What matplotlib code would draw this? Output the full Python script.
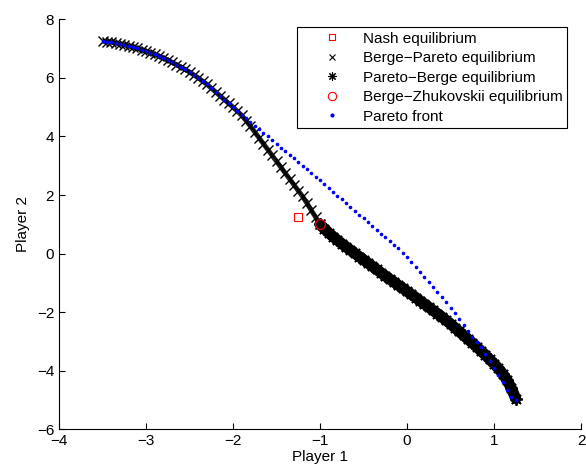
import matplotlib
matplotlib.use("Agg")
import matplotlib.pyplot as plt
from matplotlib.lines import Line2D

plt.rcParams['font.family'] = ['Liberation Sans', 'DejaVu Sans']

# Nash and Berge-Zhukovskii equilibria
nash_x = [-1.25]
nash_y = [1.25]
bz_x = [-1.0]
bz_y = [1.0]

# Shared upper part (Berge-Pareto and Pareto front overlap)
upper_x = [-3.50, -3.45, -3.40, -3.35, -3.30, -3.25, -3.20, -3.15, -3.10, -3.05,
           -3.00, -2.95, -2.90, -2.85, -2.80, -2.75, -2.70, -2.65, -2.60, -2.55,
           -2.50, -2.45, -2.40, -2.35, -2.30, -2.25, -2.20, -2.15, -2.10, -2.05,
           -2.00, -1.95, -1.90]
upper_y = [7.25, 7.24, 7.22, 7.19, 7.16, 7.13, 7.09, 7.05, 7.01, 6.96,
           6.91, 6.86, 6.80, 6.74, 6.68, 6.61, 6.53, 6.45, 6.37, 6.29,
           6.20, 6.10, 6.00, 5.89, 5.78, 5.65, 5.52, 5.39, 5.26, 5.13,
           5.00, 4.86, 4.72]

# Berge-Pareto equilibrium: continuation down to the kink
bp_tail_x = [-1.85, -1.80, -1.75, -1.70, -1.65, -1.60, -1.55, -1.50, -1.45, -1.40,
             -1.35, -1.30, -1.25, -1.20, -1.15, -1.10, -1.05, -1.00]
bp_tail_y = [4.54, 4.35, 4.15, 3.95, 3.75, 3.55, 3.35, 3.15, 2.95, 2.75,
             2.55, 2.35, 2.15, 1.95, 1.72, 1.48, 1.24, 1.00]

# Pareto-Berge equilibrium (lower branch)
pb_x = [-1.00, -0.95, -0.90, -0.85, -0.80, -0.75, -0.70, -0.65, -0.60, -0.55,
        -0.50, -0.45, -0.40, -0.35, -0.30, -0.25, -0.20, -0.15, -0.10, -0.05,
        0.00, 0.05, 0.10, 0.15, 0.20, 0.25, 0.30, 0.35, 0.40, 0.45,
        0.50, 0.55, 0.60, 0.65, 0.70, 0.75, 0.80, 0.85, 0.90, 0.95,
        1.00, 1.05, 1.10, 1.15, 1.20, 1.25]
pb_y = [1.00, 0.85, 0.71, 0.58, 0.46, 0.34, 0.23, 0.12, 0.01, -0.10,
        -0.21, -0.32, -0.43, -0.54, -0.65, -0.76, -0.87, -0.97, -1.08, -1.18,
        -1.29, -1.39, -1.50, -1.61, -1.72, -1.83, -1.94, -2.05, -2.16, -2.28,
        -2.40, -2.53, -2.66, -2.79, -2.92, -3.05, -3.18, -3.32, -3.46, -3.61,
        -3.76, -3.92, -4.10, -4.32, -4.60, -4.95]

# Pareto front: branch that leaves the black curve
pf_tail_x = [-1.85, -1.80, -1.75, -1.70, -1.65, -1.60, -1.55, -1.50, -1.45, -1.40,
             -1.35, -1.30, -1.25, -1.20, -1.15, -1.10, -1.05, -1.00, -0.95, -0.90,
             -0.85, -0.80, -0.75, -0.70, -0.65, -0.60, -0.55, -0.50, -0.45, -0.40,
             -0.35, -0.30, -0.25, -0.20, -0.15, -0.10, -0.05, 0.00, 0.05, 0.10,
             0.15, 0.20, 0.25, 0.30, 0.35, 0.40, 0.45, 0.50, 0.55, 0.60,
             0.65, 0.70, 0.75, 0.80, 0.85, 0.90, 0.95, 1.00, 1.05, 1.10,
             1.15, 1.20, 1.25]
pf_tail_y = [4.62, 4.50, 4.37, 4.25, 4.12, 4.00, 3.87, 3.75, 3.62, 3.50,
             3.38, 3.25, 3.13, 3.00, 2.88, 2.75, 2.63, 2.50, 2.37, 2.24,
             2.11, 1.98, 1.85, 1.72, 1.59, 1.46, 1.33, 1.20, 1.07, 0.93,
             0.80, 0.67, 0.55, 0.43, 0.31, 0.18, 0.03, -0.12, -0.29, -0.46,
             -0.63, -0.79, -0.96, -1.13, -1.30, -1.48, -1.66, -1.85, -2.04, -2.24,
             -2.45, -2.66, -2.84, -3.02, -3.20, -3.42, -3.66, -3.90, -4.14, -4.40,
             -4.65, -4.88, -5.00]

labels = ["Nash equilibrium", "Berge\u2212Pareto equilibrium", "Pareto\u2212Berge equilibrium",
          "Berge\u2212Zhukovskii equilibrium", "Pareto front"]
xticks = [-4, -3, -2, -1, 0, 1, 2]
yticks = [-6, -4, -2, 0, 2, 4, 6, 8]

asterisk = (8, 2, 0)

fig = plt.figure(figsize=(5.86, 4.73), dpi=100)
ax = fig.add_axes([59/586, 1 - 429.3/473, 522/586, 410/473])

bp_x = upper_x + bp_tail_x
bp_y = upper_y + bp_tail_y
ax.plot(nash_x, nash_y, 's', ls='none', mfc='none', mec='red', ms=6, mew=0.8)
ax.plot(bp_x, bp_y, color='#202020', lw=3.5, solid_capstyle='butt')
ax.plot(bp_x, bp_y, 'x', ls='none', color='black', ms=7.5, mew=1.0)
ax.plot(pb_x, pb_y, color='black', lw=8, solid_capstyle='round')
ax.plot(pb_x, pb_y, marker=asterisk, ls='none', color='black', ms=9, mew=1.3)
ax.plot(bz_x, bz_y, 'o', ls='none', mfc='none', mec='red', ms=7, mew=0.8)
ax.plot(upper_x + pf_tail_x, upper_y + pf_tail_y, '.', ls='none', color='blue', ms=3.2)

handles = [
    Line2D([], [], marker='s', ls='none', mfc='none', mec='red', ms=5, mew=0.8),
    Line2D([], [], marker='x', ls='none', color='black', ms=5, mew=0.8),
    Line2D([], [], marker=asterisk, ls='none', color='black', ms=6, mew=0.8),
    Line2D([], [], marker='o', ls='none', mfc='none', mec='red', ms=6, mew=0.8),
    Line2D([], [], marker='.', ls='none', color='blue', ms=4),
]
leg = ax.legend(handles, labels, loc='upper right', bbox_to_anchor=(0.973, 0.981),
                borderaxespad=0, fancybox=False, framealpha=1, edgecolor='black',
                fontsize=11, labelspacing=0.36, handlelength=4.0, handletextpad=0.0,
                borderpad=0.3)
leg.get_frame().set_linewidth(0.8)

ax.set_xlim(-4, 2)
ax.set_ylim(-6, 8)
ax.set_xticks(xticks)
ax.set_yticks(yticks)
ax.spines['top'].set_visible(False)
ax.spines['right'].set_visible(False)
ax.tick_params(direction='in', length=4, labelsize=11, width=0.8)
ax.set_xlabel("Player 1", fontsize=11, labelpad=1)
ax.set_ylabel("Player 2", fontsize=11, labelpad=5)

fig.savefig("out.png", dpi=100)
